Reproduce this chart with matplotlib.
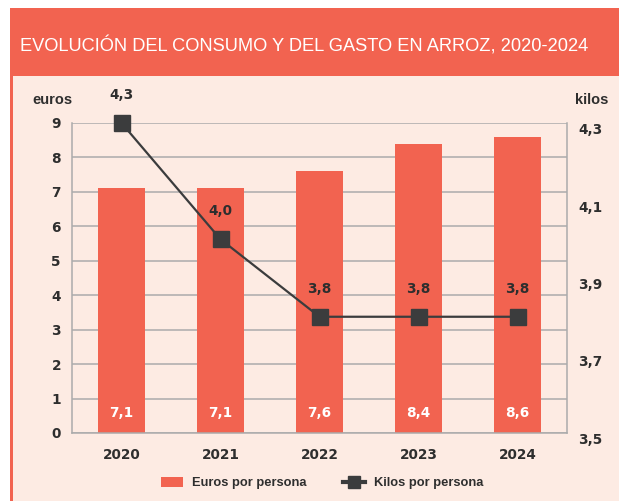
import matplotlib
matplotlib.use("Agg")
import matplotlib.pyplot as plt
from matplotlib.patches import Rectangle
from matplotlib.lines import Line2D
from matplotlib.patches import Patch
from matplotlib import font_manager

years = ["2020", "2021", "2022", "2023", "2024"]
euros = [7.1, 7.1, 7.6, 8.4, 8.6]
kilos = [4.3, 4.0, 3.8, 3.8, 3.8]
euro_ticks = [0, 1, 2, 3, 4, 5, 6, 7, 8, 9]
kilo_ticks = [3.5, 3.7, 3.9, 4.1, 4.3]
title = "EVOLUCIÓN DEL CONSUMO Y DEL GASTO EN ARROZ, 2020-2024"

RED = "#F26350"
PINK = "#FDEBE3"
DARK = "#2E2E2E"
LINEC = "#3B3C3D"
GRID = "#ABABAB"

names = {f.name for f in font_manager.fontManager.ttflist}
NARROW = "Liberation Sans Narrow" if "Liberation Sans Narrow" in names else "Liberation Sans"
BASE = ["Liberation Sans", "DejaVu Sans"]
NUM = ["DejaVu Sans"]
NUMSIZE = 9.8

W, H = 619, 501
fig = plt.figure(figsize=(W / 100, H / 100), dpi=100, facecolor="white")

def fx(px): return px / W
def fy(py): return 1 - py / H

# backgrounds
fig.patches.append(Rectangle((fx(10), 0), 1 - fx(10), fy(76), transform=fig.transFigure,
                             facecolor=PINK, edgecolor="none", zorder=-10))
fig.patches.append(Rectangle((fx(10), 0), fx(3), fy(76), transform=fig.transFigure,
                             facecolor=RED, edgecolor="none", zorder=-9))
fig.patches.append(Rectangle((fx(10), fy(76)), 1 - fx(10), fy(8) - fy(76), transform=fig.transFigure,
                             facecolor=RED, edgecolor="none", zorder=-9))
tt = fig.text(fx(20), fy(46), title, color="white", fontsize=16, family=[NARROW, "DejaVu Sans"],
              ha="left", va="center")
# fit title width to ~570 px
r = fig.canvas.get_renderer()
w = tt.get_window_extent(r).width
tt.set_fontsize(16 * 570 / w)

ax = fig.add_axes([fx(72), fy(433), fx(567) - fx(72), fy(123) - fy(433)])
ax.set_facecolor("none")
x = list(range(len(years)))
ax.bar(x, euros, width=0.48, color=RED, zorder=2)
ax.set_xlim(-0.5, 4.5)
ax.set_ylim(0, 9)
ax.set_yticks(euro_ticks)
ax.set_yticklabels([str(t) for t in euro_ticks])
ax.set_xticks(x)
ax.set_xticklabels(years)
ax.grid(axis="y", color=GRID, linewidth=1.1, zorder=1)
ax.set_axisbelow(True)
for s in ["left", "right", "bottom"]:
    ax.spines[s].set_color(GRID)
    ax.spines[s].set_linewidth(1.1)
ax.spines["top"].set_visible(False)
ax.tick_params(axis="both", length=0, labelsize=NUMSIZE, colors=DARK)
ax.tick_params(axis="y", pad=8)
ax.tick_params(axis="x", pad=11)
for lab in ax.get_xticklabels() + ax.get_yticklabels():
    lab.set_fontweight("bold")
    lab.set_family(NUM)

for xi, v in zip(x, euros):
    ax.text(xi, 0.58, f"{v:.1f}".replace(".", ","), color="white", fontsize=NUMSIZE, fontweight="bold",
            family=NUM, ha="center", va="center", zorder=4)

ax2 = ax.twinx()
ax2.set_ylim(3.5, 4.3)
ax2.set_yticks(kilo_ticks)
ax2.set_yticklabels([f"{t:.1f}".replace(".", ",") for t in kilo_ticks])
for s in ["left", "right", "bottom", "top"]:
    ax2.spines[s].set_visible(False)
ax2.tick_params(axis="y", length=0, labelsize=NUMSIZE, colors=DARK, pad=8)
for lab in ax2.get_yticklabels():
    lab.set_fontweight("bold")
    lab.set_family(NUM)
    lab.set_va("top")
ax2.plot(x, kilos, color=LINEC, linewidth=1.6, marker="s", markersize=11.5, zorder=5, clip_on=False)
for xi, v in zip(x, kilos):
    ax2.annotate(f"{v:.1f}".replace(".", ","), (xi, v), xytext=(0, 20), textcoords="offset points",
                 ha="center", va="center", fontsize=NUMSIZE, fontweight="bold", color=DARK,
                 family=NUM)

fig.text(fx(52), fy(100), "euros", fontsize=10.5, fontweight="bold", color=DARK,
         family=BASE, ha="center", va="center")
fig.text(fx(592), fy(100), "kilos", fontsize=10.5, fontweight="bold", color=DARK,
         family=BASE, ha="center", va="center")

handles = [Patch(facecolor=RED, edgecolor="none", label="Euros por persona"),
           Line2D([0], [0], color=LINEC, linewidth=3, marker="s", markersize=8, label="Kilos por persona")]
leg = fig.legend(handles=handles, loc="center", bbox_to_anchor=(fx(322), fy(483)), ncol=2, frameon=False,
                 prop={"family": [NARROW, "DejaVu Sans"], "weight": "bold", "size": 9.3},
                 handlelength=1.7, handleheight=0.9, columnspacing=2.8, handletextpad=0.7)
for t in leg.get_texts():
    t.set_color(DARK)

fig.savefig("out.png", dpi=100, facecolor="white")
